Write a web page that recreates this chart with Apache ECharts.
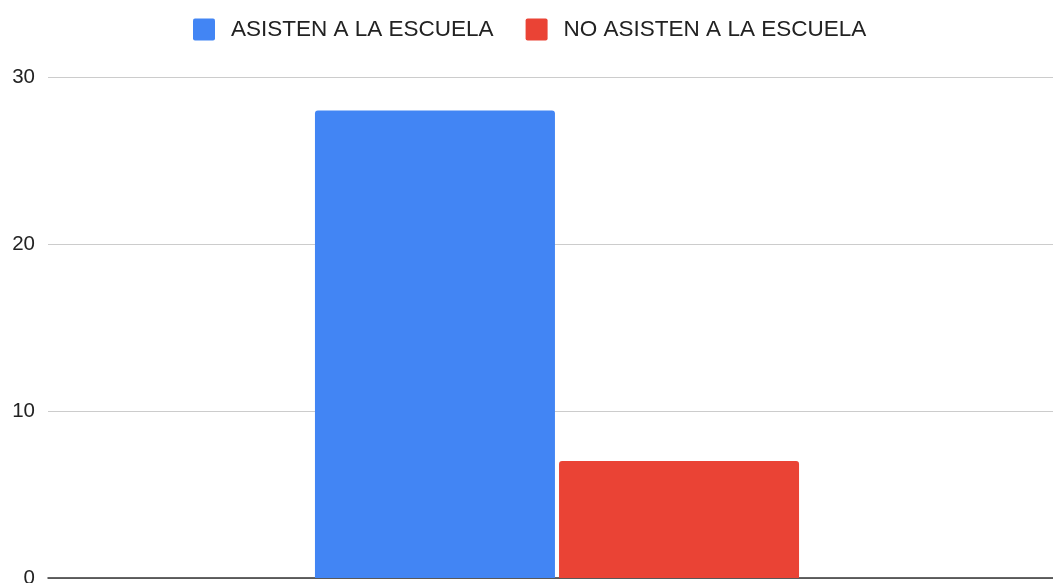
<!DOCTYPE html>
<html><head><meta charset="utf-8">
<script src="https://cdn.jsdelivr.net/npm/echarts@6/dist/echarts.min.js"></script>
<style>html,body{margin:0;padding:0;background:#fff}#c{width:1053px;height:583px}</style>
</head><body><div id="c"></div>
<script>
const categories = [''];
const seriesNames = ['ASISTEN A LA ESCUELA', 'NO ASISTEN A LA ESCUELA'];
const asisten = [28];
const noAsisten = [7];
const yTicks = [0, 10, 20, 30];

const chart = echarts.init(document.getElementById('c'));
const font = 'Arial, "Liberation Sans", sans-serif';
const sq = 'path://M2,0H20A2,2,0,0,1,22,2V20A2,2,0,0,1,20,22H2A2,2,0,0,1,0,20V2A2,2,0,0,1,2,0Z';
chart.setOption({
  animation: false,
  color: ['#4285F4', '#EA4335'],
  textStyle: { fontFamily: font },
  legend: {
    top: 13, left: 188,
    itemWidth: 22, itemHeight: 22, itemGap: 32,
    icon: sq,
    textStyle: { fontSize: 22.5, color: '#222', fontFamily: font, padding: [0, 0, 0, 11] },
    data: seriesNames
  },
  grid: { left: 48, right: -13, top: 77, bottom: 5, containLabel: false, outerBoundsMode: 'none' },
  xAxis: {
    type: 'category', data: categories,
    axisLine: { lineStyle: { color: '#333', width: 1.5 } },
    axisTick: { show: false }, axisLabel: { show: false }
  },
  yAxis: {
    type: 'value', min: yTicks[0], max: yTicks[yTicks.length - 1], interval: 10,
    axisLine: { show: false }, axisTick: { show: false },
    axisLabel: { fontSize: 20.5, color: '#222', margin: 13, fontFamily: font },
    splitLine: { lineStyle: { color: '#ccc', width: 1.2 } }
  },
  series: [
    { name: seriesNames[0], type: 'bar', data: asisten, barWidth: 240, barGap: '1.7%',
      itemStyle: { borderRadius: [3, 3, 0, 0] } },
    { name: seriesNames[1], type: 'bar', data: noAsisten, barWidth: 240,
      itemStyle: { borderRadius: [3, 3, 0, 0] } }
  ]
});
</script></body></html>
